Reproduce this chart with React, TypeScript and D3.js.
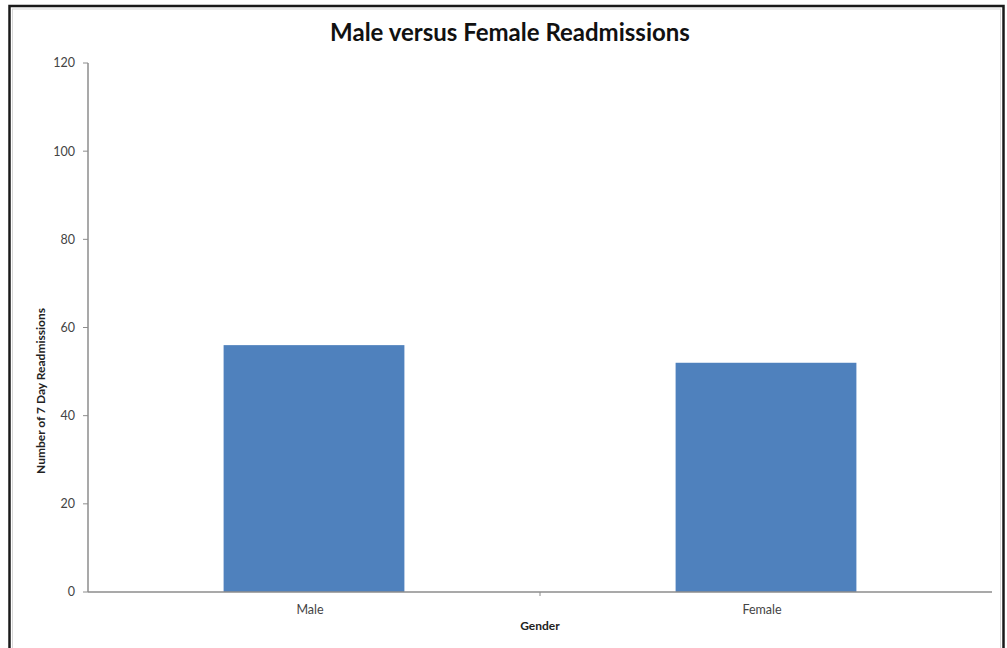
import React from "react";
import * as d3 from "d3";

// Readmission counts by gender
const categories: string[] = ["Male", "Female"];
const readmissions: number[] = [56, 52];
const yTicks: number[] = [0, 20, 40, 60, 80, 100, 120];

const W = 1007;
const H = 648;
const plot = { left: 88, right: 992, top: 63, bottom: 592 };

export default function App() {
  const x = d3
    .scaleBand<string>()
    .domain(categories)
    .range([plot.left, plot.right])
    .paddingInner(0.6)
    .paddingOuter(0.3);
  const y = d3.scaleLinear().domain([0, 120]).range([plot.bottom, plot.top]);

  const font = "Lato, 'Open Sans', sans-serif";
  const midX = (plot.left + plot.right) / 2;

  return (
    <svg
      width={W}
      height={H}
      style={{ position: "absolute", left: 0, top: 0, background: "#fff" }}
      fontFamily={font}
    >
      {/* chart frame */}
      <rect x={9.5} y={6} width={994} height={660} fill="#fff" stroke="#1a1a1a" strokeWidth={2.5} />
      <rect x={12.5} y={9} width={988} height={660} fill="none" stroke="#d8d8d8" strokeWidth={1} />

      {/* title */}
      <text x={510} y={41} textAnchor="middle" fontSize={24} fontWeight={700} fill="#111">
        Male versus Female Readmissions
      </text>

      {/* bars */}
      {categories.map((c, i) => (
        <rect
          key={c}
          x={x(c)}
          y={y(readmissions[i])}
          width={x.bandwidth()}
          height={y(0) - y(readmissions[i])}
          fill="#4F81BD"
        />
      ))}

      {/* y axis */}
      <line x1={plot.left} x2={plot.left} y1={plot.top} y2={plot.bottom} stroke="#8c8c8c" strokeWidth={1.5} />
      {yTicks.map((t) => (
        <g key={t}>
          <line x1={plot.left - 5} x2={plot.left} y1={y(t)} y2={y(t)} stroke="#8c8c8c" strokeWidth={1} />
          <text x={75} y={y(t)} dy="0.35em" textAnchor="end" fontSize={12.5} fill="#444">
            {t}
          </text>
        </g>
      ))}

      {/* x axis */}
      <line x1={plot.left} x2={plot.right} y1={plot.bottom} y2={plot.bottom} stroke="#8c8c8c" strokeWidth={1.5} />
      <line x1={midX} x2={midX} y1={plot.bottom} y2={plot.bottom + 4} stroke="#8c8c8c" strokeWidth={1} />
      {categories.map((c) => (
        <text
          key={c}
          x={(x(c) ?? 0) + x.bandwidth() / 2 - 4}
          y={610}
          dy="0.35em"
          textAnchor="middle"
          fontSize={12.5}
          fill="#444"
        >
          {c}
        </text>
      ))}

      {/* axis titles */}
      <text x={midX} y={626} dy="0.35em" textAnchor="middle" fontSize={12} fontWeight={700} fill="#222">
        Gender
      </text>
      <text
        transform={`translate(41, 391) rotate(-90)`}
        dy="0.35em"
        textAnchor="middle"
        fontSize={12}
        fontWeight={700}
        fill="#222"
      >
        Number of 7 Day Readmissions
      </text>
    </svg>
  );
}
